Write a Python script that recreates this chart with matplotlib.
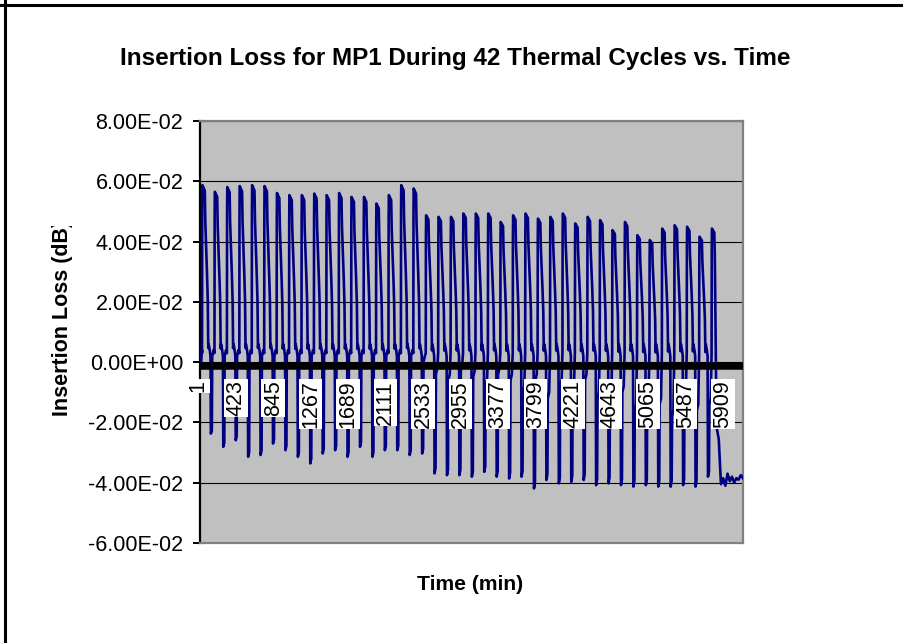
import numpy as np
import matplotlib
matplotlib.use("Agg")
import matplotlib.pyplot as plt
from matplotlib.transforms import ScaledTranslation, Bbox
from matplotlib.lines import Line2D

plt.rcParams['font.family'] = ['Liberation Sans', 'DejaVu Sans']

# ---------------- data ----------------
title = "Insertion Loss for MP1 During 42 Thermal Cycles vs. Time"
x_label = "Time (min)"
y_label = "Insertion Loss (dB)"

# hot-dwell peak of each of the 42 cycles (dB)
peaks = [0.0587, 0.0565, 0.0581, 0.0584, 0.0587, 0.0584, 0.0561, 0.0554, 0.0554,
         0.0559, 0.0554, 0.0561, 0.0548, 0.0548, 0.0526, 0.0554, 0.0587,
         0.0576, 0.0487, 0.0482, 0.0482, 0.0493, 0.0493, 0.0493, 0.0465, 0.0487,
         0.0493, 0.0476, 0.0482, 0.0493, 0.0460, 0.0482,
         0.0471, 0.0438, 0.0465, 0.0421, 0.0405, 0.0443, 0.0454, 0.0449, 0.0416, 0.0443]
# cold-dwell trough of each cycle (dB)
troughs = [-0.0237, -0.0281, -0.0259, -0.0314, -0.0308, -0.0270, -0.0292, -0.0314, -0.0336,
           -0.0303, -0.0292, -0.0314, -0.0281, -0.0314, -0.0292, -0.0292, -0.0308,
           -0.0303, -0.0369, -0.0375, -0.0375, -0.0380, -0.0364, -0.0380, -0.0386, -0.0380,
           -0.0419, -0.0391, -0.0402, -0.0397, -0.0391, -0.0408,
           -0.0402, -0.0408, -0.0413, -0.0408, -0.0413, -0.0413, -0.0408, -0.0413, -0.0380, -0.0400]
# level reached after each cold dwell (dB)
recover = [0.002, 0.002, 0.002, 0.002, 0.002, 0.002, 0.002, 0.002, 0.002,
           0.002, 0.002, 0.002, 0.002, 0.002, 0.002, 0.002, 0.002,
           0.000, -0.004, -0.006, -0.003, -0.005, -0.008, -0.004, -0.006, -0.010,
           -0.006, -0.012, -0.008, -0.010, -0.006, -0.012,
           -0.014, -0.010, -0.016, -0.012, -0.014, -0.018, -0.012, -0.016, -0.014, -0.015]
# readings before the first cycle and after the last one
lead_in = [-0.004, 0.000, -0.002, 0.004]
tail = [-0.0215, -0.0255, -0.0405, -0.0385, -0.0410, -0.0370, -0.0395,
        -0.0380, -0.0400, -0.0385, -0.0390, -0.0375, -0.0385]

x_tick_labels = [1, 423, 845, 1267, 1689, 2111, 2533, 2955, 3377, 3799,
                 4221, 4643, 5065, 5487, 5909]
y_ticks = [-0.06, -0.04, -0.02, 0.0, 0.02, 0.04, 0.06, 0.08]

# ---------------- cycle timing / shape (layout) ----------------
START = 43        # sample index where cycle 1 begins
PERIOD = 140      # samples per thermal cycle
X_MIN, X_END = 20, 6137
# (phase, weight of peak, weight of trough, weight of recover, constant)
template = [
    (0.000, 0.00, 0.00, 0.0, 0.003),
    (0.015, 0.85, 0.00, 0.0, 0.0),
    (0.030, 1.00, 0.00, 0.0, 0.0),
    (0.220, 0.97, 0.00, 0.0, 0.0),
    (0.260, 0.80, 0.00, 0.0, 0.0),
    (0.400, 0.50, 0.00, 0.0, 0.0),
    (0.460, 0.35, 0.00, 0.0, 0.0),
    (0.500, 0.08, 0.00, 0.0, 0.0),
    (0.530, 0.00, 0.00, 0.0, 0.006),
    (0.620, 0.00, 0.00, 0.0, 0.004),
    (0.680, 0.00, 0.00, 0.0, 0.002),
    (0.710, 0.00, 1.00, 0.0, 0.0),
    (0.790, 0.00, 0.95, 0.0, 0.0),
    (0.820, 0.00, 0.00, 1.0, 0.0),
    (0.930, 0.00, 0.00, 1.0, 0.002),
]

xs, ys = [], []
lead_x = np.linspace(1, START - 1, len(lead_in))
xs.extend(lead_x); ys.extend(lead_in)
n_cyc = len(peaks)
for k in range(n_cyc):
    s = START + k * PERIOD
    last = (k == n_cyc - 1)
    for ph, wp, wt, wr, c in template:
        if last and ph > 0.26:
            break
        xs.append(s + ph * PERIOD)
        ys.append(wp * peaks[k] + wt * troughs[k] + wr * recover[k] + c)
s_last = START + (n_cyc - 1) * PERIOD
tail_x = np.linspace(s_last + 0.40 * PERIOD, X_END, len(tail))
xs.extend(tail_x); ys.extend(tail)

# ---------------- figure ----------------
W, H, DPI = 904, 643, 100
fig = plt.figure(figsize=(W / DPI, H / DPI), dpi=DPI, facecolor='white')

# chart frame (only left and top edges are inside the picture)
fig.add_artist(Line2D([5 / W, 5 / W], [0, 1], transform=fig.transFigure, color='black', lw=2.2))
fig.add_artist(Line2D([0, 1], [1 - 5 / H, 1 - 5 / H], transform=fig.transFigure, color='black', lw=2.2))

ax = fig.add_axes([200 / W, (H - 543) / H, 543 / W, 422 / H])
ax.set_facecolor('#C0C0C0')
ax.set_xlim(X_MIN, X_END)
ax.set_ylim(-0.06, 0.08)

for side in ('top', 'right', 'bottom'):
    ax.spines[side].set_color('#808080')
    ax.spines[side].set_linewidth(1.6)
ax.spines['left'].set_color('black')
ax.spines['left'].set_linewidth(1.6)

ax.set_yticks(y_ticks)
ax.set_yticklabels([f"{v:.2E}" for v in y_ticks])
ax.tick_params(axis='y', direction='out', length=5, width=1.4, pad=7,
               labelsize=15.5, colors='black')
ax.set_xticks([])
ax.yaxis.grid(True, color='black', lw=0.8)
ax.set_axisbelow(True)

ax.plot(xs, ys, color='#000080', lw=1.9, zorder=3)

# heavy category axis line at zero
off = ScaledTranslation(0, -3.5 / DPI, fig.dpi_scale_trans)
band = ax.axhline(0, color='black', lw=5.4, zorder=4)
band.set_transform(band.get_transform() + off)

lab_off = ScaledTranslation(0, -18 / DPI, fig.dpi_scale_trans)
for v in x_tick_labels:
    ax.text(v, 0, str(v), rotation=90, ha='center', va='top', fontsize=15.5,
            transform=ax.transData + lab_off, zorder=6, clip_on=False,
            bbox=dict(boxstyle='square,pad=0.06', fc='white', ec='none'))

fig.text(455 / W, 1 - 59 / H, title, ha='center', va='center',
         fontsize=17.5, fontweight='bold')
fig.text(470 / W, 1 - 585 / H, x_label, ha='center', va='center',
         fontsize=15.2, fontweight='bold')
yl = fig.text(62.5 / W, 1 - 318 / H, y_label, ha='center', va='center',
              rotation=90, fontsize=15.5, fontweight='bold')
yl.set_clip_box(Bbox([[0, 0], [W, H - 226]]))
yl.set_clip_on(True)

fig.savefig('out.png', dpi=DPI, facecolor='white')
